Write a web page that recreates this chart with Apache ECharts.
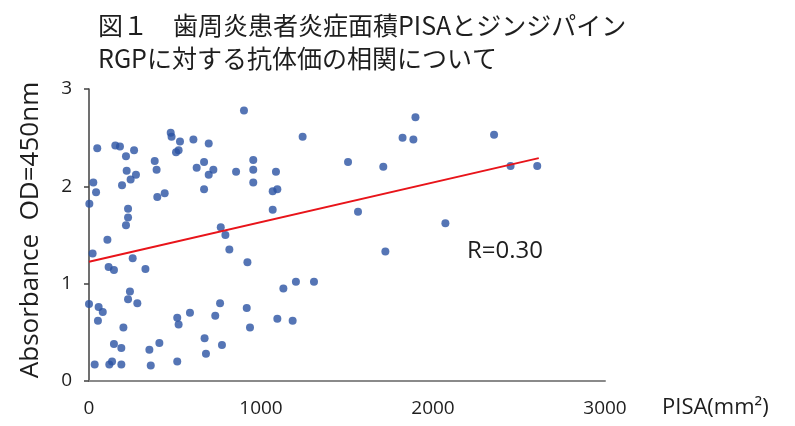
<!DOCTYPE html>
<html>
<head>
<meta charset="utf-8">
<script src="https://cdn.jsdelivr.net/npm/echarts@6/dist/echarts.min.js"></script>
<style>
html,body{margin:0;padding:0;background:#fff;}
#chart{width:795px;height:426px;}
</style>
</head>
<body>
<div id="chart"></div>
<script>
// PISA (mm^2) values
const pisa = [901,1242,475,480,529,521,506,607,696,48,153,180,262,215,382,669,955,219,393,626,723,696,855,955,1087,273,242,25,192,955,41,397,440,669,1068,1095,2,227,1068,227,215,107,766,793,816,21,254,921,114,145,328,1130,1203,1308,238,0,227,281,762,56,80,917,587,734,52,513,521,1095,1184,200,936,672,145,188,409,773,351,680,33,118,134,188,359,513,1506,1711,1823,1886,1898,2355,2451,2606,1564,2072,1723];
// Absorbance OD=450nm values
const absorbance = [2.78,2.51,2.55,2.51,2.46,2.37,2.35,2.48,2.44,2.39,2.42,2.41,2.37,2.31,2.26,2.25,2.27,2.16,2.17,2.19,2.17,2.12,2.15,2.17,2.15,2.12,2.07,2.04,2.01,2.04,1.94,1.89,1.93,1.97,1.95,1.97,1.82,1.77,1.76,1.68,1.60,1.45,1.58,1.50,1.35,1.31,1.26,1.22,1.17,1.14,1.15,0.95,1.02,1.02,0.92,0.79,0.84,0.80,0.80,0.76,0.71,0.75,0.70,0.67,0.62,0.65,0.58,0.64,0.62,0.55,0.55,0.44,0.38,0.34,0.39,0.37,0.32,0.28,0.17,0.17,0.20,0.17,0.16,0.20,2.25,2.20,2.50,2.48,2.71,2.53,2.21,2.21,1.74,1.62,1.33];
// Regression line endpoints
const trendX = [0, 2615];
const trendY = [1.226, 2.29];
const xTicks = [0, 1000, 2000, 3000];
const yTicks = [0, 1, 2, 3];
const titleText = '図１　歯周炎患者炎症面積PISAとジンジパイン\nRGPに対する抗体価の相関について';
const rText = 'R=0.30';

const points = pisa.map((x, i) => [x, absorbance[i]]);
const trend = trendX.map((x, i) => [x, trendY[i]]);

const chart = echarts.init(document.getElementById('chart'));
chart.setOption({
  animation: false,
  backgroundColor: '#ffffff',
  title: {
    text: titleText,
    left: 93,
    top: 4,
    textStyle: {
      fontFamily: 'Noto Sans CJK JP',
      fontSize: 25,
      fontWeight: 'normal',
      color: '#1e1e1e',
      lineHeight: 33
    }
  },
  grid: { left: 89, right: 190, top: 89, bottom: 45 },
  xAxis: {
    type: 'value',
    min: xTicks[0],
    max: xTicks[xTicks.length - 1],
    interval: 1000,
    name: 'PISA(mm²)',
    nameLocation: 'end',
    nameGap: 57,
    nameTextStyle: {
      fontFamily: 'Open Sans',
      fontSize: 22,
      color: '#1e1e1e',
      verticalAlign: 'top',
      padding: [16, 0, 0, 0]
    },
    axisLine: { show: true, lineStyle: { color: '#8a8a8a', width: 2 } },
    axisTick: { show: false },
    splitLine: { show: false },
    axisLabel: {
      margin: 18,
      fontFamily: 'Open Sans',
      fontSize: 19,
      color: '#1e1e1e',
      formatter: (v) => String(v)
    }
  },
  yAxis: {
    type: 'value',
    min: yTicks[0],
    max: yTicks[yTicks.length - 1],
    interval: 1,
    name: 'Absorbance  OD=450nm',
    nameLocation: 'middle',
    nameGap: 45,
    nameTextStyle: {
      fontFamily: 'Open Sans',
      fontSize: 26,
      color: '#1e1e1e',
      padding: [0, 0, 0, 10]
    },
    axisLine: { show: true, lineStyle: { color: '#404040', width: 1.5 } },
    axisTick: { show: true, inside: false, length: 5, lineStyle: { color: '#404040', width: 1.5 } },
    splitLine: { show: false },
    axisLabel: {
      margin: 17,
      fontFamily: 'Open Sans',
      fontSize: 19,
      color: '#1e1e1e'
    }
  },
  graphic: [{
    type: 'text',
    left: 467,
    top: 239,
    style: {
      text: rText,
      fontFamily: 'Open Sans',
      fontSize: 24,
      fill: '#1e1e1e'
    }
  }],
  series: [
    {
      type: 'scatter',
      data: points,
      symbol: 'circle',
      symbolSize: 8,
      itemStyle: { color: '#2a52a2' },
      z: 2
    },
    {
      type: 'line',
      data: trend,
      symbol: 'none',
      lineStyle: { color: '#e8141a', width: 2 },
      z: 3
    }
  ]
});
</script>
</body>
</html>
